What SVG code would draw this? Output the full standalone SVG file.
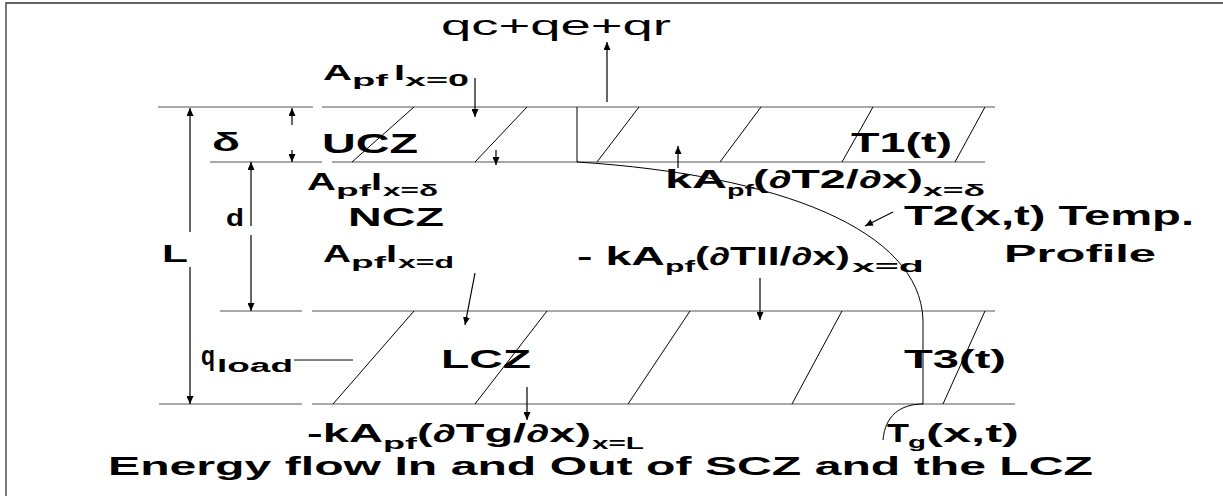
<svg xmlns="http://www.w3.org/2000/svg" width="1223" height="496" viewBox="0 0 1223 496">
<style>
.b{font-family:"Liberation Sans",Arial,sans-serif;font-weight:bold;fill:#000}
.r{font-family:"Liberation Sans",Arial,sans-serif;fill:#000}
.h{stroke:#555;stroke-width:1.2;fill:none}
.t{stroke:#000;stroke-width:1;fill:none}
.a{stroke:#000;stroke-width:1.2;fill:none;marker-end:url(#ah)}
</style>
<defs>
<marker id="ah" markerUnits="userSpaceOnUse" markerWidth="8" markerHeight="7" refX="8" refY="3.5" orient="auto">
<path d="M0,0 L8,3.5 L0,7 z" fill="#000"/>
</marker>
</defs>
<rect width="1223" height="496" fill="#fff"/>
<g id="frame">
<path d="M6,496 L6,3 L1223,3" stroke="#333" stroke-width="1.3" fill="none"/>
</g>
<g id="layers">
<path class="h" d="M158,107 H313 M322,107 H995 M210,162 H322 M332,162 H985 M220,311 H302 M312,311 H995 M159,404 H302 M312,404 H1015"/>
<path class="t" d="M414,107 L352,162 M527,107 L475,162 M639,107 L597,162 M761,107 L720,162 M873,107 L842,162 M985,107 L955,162 M577,107 L577,162"/>
<path class="t" d="M414,311 L333,404 M547,311 L475,404 M690,311 L628,404 M842,311 L792,404 M985,311 L943,404"/>
<path id="profile" class="t" d="M577,162 C780,175 920,230 923,320 L923,404 C900,404 885,416 883,440"/>
</g>
<g id="connectors">
<path class="a" d="M607,102 V42"/>
<path class="a" d="M475,78 V117"/>
<path class="a" d="M292,125 V108"/>
<path class="a" d="M292,150 V162"/>
<path class="a" d="M190,232 V108"/>
<path class="a" d="M190,267 V404"/>
<path class="a" d="M251,226 V162"/>
<path class="a" d="M251,235 V311"/>
<path class="a" d="M496,150 V165"/>
<path class="a" d="M678,168 V146"/>
<path class="a" d="M760,278 V320"/>
<path class="a" d="M475,273 L465,325"/>
<path class="a" d="M527,387 V420"/>
<path class="a" d="M893,212 L865,226"/>
<path class="t" d="M294,360 H353" stroke="#555"/>
</g>
<g id="labels">
<text class="r" x="441" y="35" font-size="28" textLength="230" lengthAdjust="spacingAndGlyphs">qc+qe+qr</text>
<text class="b" font-size="22"><tspan x="323" y="80" textLength="29" lengthAdjust="spacingAndGlyphs">A</tspan><tspan x="352" y="86" font-size="17" textLength="36" lengthAdjust="spacingAndGlyphs">pf</tspan><tspan x="394" y="80" textLength="11" lengthAdjust="spacingAndGlyphs">I</tspan><tspan x="405" y="86" font-size="17" textLength="64" lengthAdjust="spacingAndGlyphs">x=0</tspan></text>
<text class="b" x="212" y="151" font-size="25" textLength="28" lengthAdjust="spacingAndGlyphs">δ</text>
<text class="b" x="322" y="153" font-size="28" textLength="96" lengthAdjust="spacingAndGlyphs">UCZ</text>
<text class="b" x="851" y="152" font-size="28" textLength="101" lengthAdjust="spacingAndGlyphs">T1(t)</text>
<text class="b" font-size="24"><tspan x="307" y="190" textLength="29" lengthAdjust="spacingAndGlyphs">A</tspan><tspan x="336" y="196" font-size="17" textLength="35" lengthAdjust="spacingAndGlyphs">pf</tspan><tspan x="371" y="190" textLength="11" lengthAdjust="spacingAndGlyphs">I</tspan><tspan x="383" y="196" font-size="17" textLength="55" lengthAdjust="spacingAndGlyphs">x=δ</tspan></text>
<text class="b" font-size="25"><tspan x="665" y="188" textLength="62" lengthAdjust="spacingAndGlyphs">kA</tspan><tspan x="727" y="196" font-size="17" textLength="27" lengthAdjust="spacingAndGlyphs">pf</tspan><tspan x="753" y="188" textLength="170" lengthAdjust="spacingAndGlyphs">(∂T2/∂x)</tspan><tspan x="923" y="196" font-size="17" textLength="62" lengthAdjust="spacingAndGlyphs">x=δ</tspan></text>
<text class="b" x="226" y="226" font-size="23" textLength="18" lengthAdjust="spacingAndGlyphs">d</text>
<text class="b" x="348" y="226" font-size="25" textLength="96" lengthAdjust="spacingAndGlyphs">NCZ</text>
<text class="b" x="904" y="225" font-size="27" textLength="290" lengthAdjust="spacingAndGlyphs">T2(x,t) Temp.</text>
<text class="b" x="162" y="262" font-size="24" textLength="26" lengthAdjust="spacingAndGlyphs">L</text>
<text class="b" font-size="24"><tspan x="323" y="262" textLength="28" lengthAdjust="spacingAndGlyphs">A</tspan><tspan x="351" y="268" font-size="17" textLength="35" lengthAdjust="spacingAndGlyphs">pf</tspan><tspan x="386" y="262" textLength="11" lengthAdjust="spacingAndGlyphs">I</tspan><tspan x="398" y="268" font-size="17" textLength="56" lengthAdjust="spacingAndGlyphs">x=d</tspan></text>
<text class="b" font-size="25"><tspan x="577" y="265" textLength="88" lengthAdjust="spacingAndGlyphs">- kA</tspan><tspan x="665" y="272" font-size="17" textLength="30" lengthAdjust="spacingAndGlyphs">pf</tspan><tspan x="695" y="265" textLength="155" lengthAdjust="spacingAndGlyphs">(∂TII/∂x)</tspan><tspan x="852" y="272" font-size="17" textLength="72" lengthAdjust="spacingAndGlyphs">x=d</tspan></text>
<text class="b" x="1004" y="262" font-size="24" textLength="152" lengthAdjust="spacingAndGlyphs">Profile</text>
<text class="b" font-size="27"><tspan x="201" y="365" textLength="14" lengthAdjust="spacingAndGlyphs">q</tspan><tspan x="217" y="372" font-size="18" textLength="76" lengthAdjust="spacingAndGlyphs">load</tspan></text>
<text class="b" x="441" y="368" font-size="25" textLength="90" lengthAdjust="spacingAndGlyphs">LCZ</text>
<text class="b" x="904" y="368" font-size="25" textLength="102" lengthAdjust="spacingAndGlyphs">T3(t)</text>
<text class="b" font-size="25"><tspan x="307" y="442" textLength="76" lengthAdjust="spacingAndGlyphs">-kA</tspan><tspan x="383" y="449" font-size="17" textLength="34" lengthAdjust="spacingAndGlyphs">pf</tspan><tspan x="417" y="442" textLength="174" lengthAdjust="spacingAndGlyphs">(∂Tg/∂x)</tspan><tspan x="592" y="449" font-size="17" textLength="52" lengthAdjust="spacingAndGlyphs">x=L</tspan></text>
<text class="b" font-size="25"><tspan x="887" y="442" textLength="22" lengthAdjust="spacingAndGlyphs">T</tspan><tspan x="908" y="448" font-size="17" textLength="18" lengthAdjust="spacingAndGlyphs">g</tspan><tspan x="926" y="442" textLength="93" lengthAdjust="spacingAndGlyphs">(x,t)</tspan></text>
<text class="b" x="108" y="475" font-size="25" textLength="985" lengthAdjust="spacingAndGlyphs">Energy flow In and Out of SCZ and the LCZ</text>
</g>
</svg>
